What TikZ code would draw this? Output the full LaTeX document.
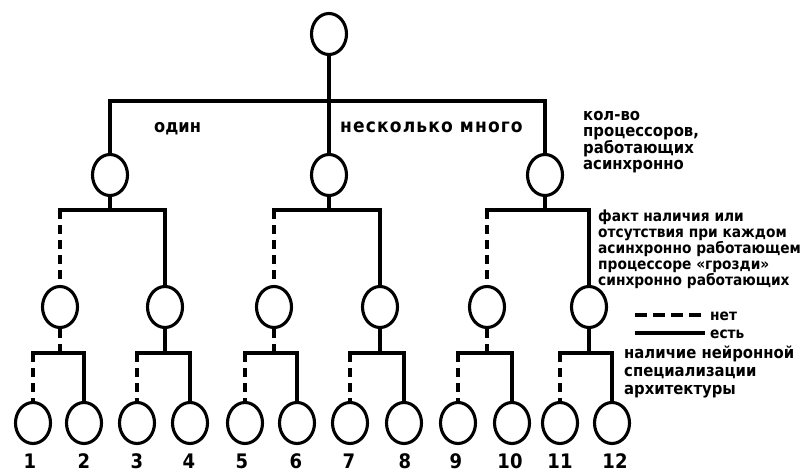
\documentclass[tikz,border=0pt]{standalone}
\usepackage{fontspec}
\setmainfont{DejaVu Sans}
\newfontfamily\labfont{DejaVu Sans Condensed}
\usetikzlibrary{shapes.geometric}

\begin{document}
\begin{tikzpicture}[x=1pt,y=-1pt,
  vertex/.style={ellipse, draw, line width=3.1pt, minimum width=35pt, minimum height=41pt, inner sep=0pt},
  wire/.style={line width=3.1pt, line cap=rect},
  nowire/.style={line width=3.1pt, dash pattern=on 9pt off 6pt},
  lbl/.style={font=\labfont\bfseries\fontsize{15.3}{16}\selectfont, align=left, anchor=base west, inner sep=0pt},
  head/.style={font=\labfont\bfseries\fontsize{18}{20}\selectfont, anchor=base west, inner sep=0pt},
  num/.style={font=\labfont\bfseries\fontsize{20}{22}\selectfont, anchor=base, inner sep=0pt}]
\useasboundingbox (0,0) rectangle (805,473);

% tree nodes
\node[vertex] (r) at (329,34) {};
\node[vertex] (a) at (110,175) {};
\node[vertex] (b) at (329,175) {};
\node[vertex] (c) at (545,175) {};
\node[vertex] (a1) at (60,307) {};
\node[vertex] (a2) at (165,307) {};
\node[vertex] (b1) at (274,307) {};
\node[vertex] (b2) at (380,307) {};
\node[vertex] (c1) at (487,307) {};
\node[vertex] (c2) at (589,307) {};
\foreach \i/\x in {1/33,2/84,3/137,4/190,5/245,6/297,7/350,8/404,9/458,10/512,11/560,12/612}
  \node[vertex] (l\i) at (\x,423) {};

% leaf numbers
\foreach \i/\x in {1/30,2/84,3/137,4/189,5/242,6/296,7/349,8/405,9/456,10/510,11/560,12/615}
  \node[num] (n\i) at (\x,468) {\i};

% top level
\coordinate (rj) at (329,101);
\draw[wire] (r.south) -- (rj) -- (b.north);
\draw[wire] (a.north) |- (rj) -| (c.north);

% second level
\foreach \p/\u/\v in {a/a1/a2, b/b1/b2, c/c1/c2} {
  \coordinate (\p-j) at (\p.south |- 0,210);
  \draw[wire] (\p.south) -- (\p-j);
  \draw[wire] (\u |- \p-j) -- (\v |- \p-j);
  \draw[nowire] (\u |- \p-j) -- (\u.north);
  \draw[wire] (\v |- \p-j) -- (\v.north);
}

% third level
\foreach \p/\u/\v/\s in {a1/l1/l2/nowire, a2/l3/l4/wire, b1/l5/l6/nowire, b2/l7/l8/wire, c1/l9/l10/nowire, c2/l11/l12/wire} {
  \coordinate (\p-j) at (\p.south |- 0,353);
  \draw[\s] (\p.south) -- (\p-j);
  \draw[wire] (\u |- \p-j) -- (\v |- \p-j);
  \draw[nowire] (\u |- \p-j) -- (\u.north);
  \draw[wire] (\v |- \p-j) -- (\v.north);
}

% branch labels
\node[head] (one) at (154,133) {один};
\node[head, font=\labfont\bfseries\fontsize{19}{20}\selectfont\addfontfeature{LetterSpace=6}] (many) at (340,133) {несколько много};

% level descriptions (anchored at the baseline of the last line)
\node[lbl, font=\labfont\bfseries\fontsize{16.5}{16}\selectfont] (t1) at (583,170) {кол-во\\процессоров,\\работающих\\асинхронно};
\node[lbl] (t2) at (598,285) {факт наличия или\\отсутствия при каждом\\асинхронно работающем\\процессоре «грозди»\\синхронно работающих};
\node[lbl, font=\labfont\bfseries\fontsize{16.5}{18}\selectfont] (t3) at (624,394) {наличие нейронной\\специализации\\архитектуры};

% legend
\coordinate (d0) at (635,315);
\coordinate (d1) at (703,315);
\coordinate (s0) at (635,333);
\coordinate (s1) at (705,333);
\draw[line width=3.1pt, dash pattern=on 12pt off 6pt] (d0) -- (d1);
\draw[line width=3.1pt] (s0) -- (s1);
\node[lbl] (net) at (710,320) {нет};
\node[lbl] (est) at (710,338) {есть};
\end{tikzpicture}
\end{document}
